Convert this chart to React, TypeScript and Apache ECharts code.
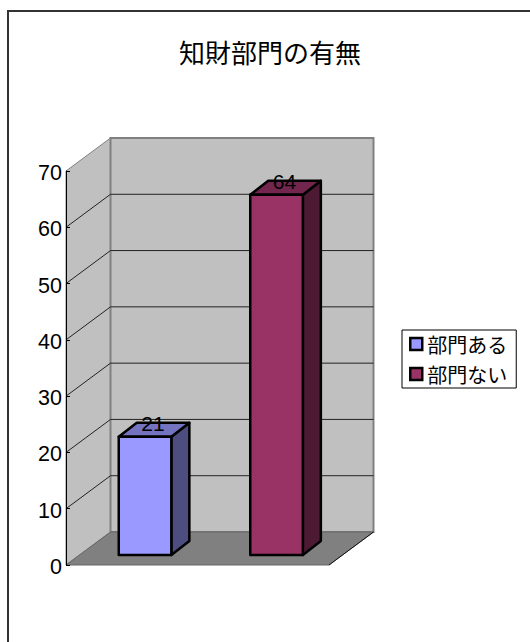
import React, { useEffect, useRef } from "react";
import * as echarts from "echarts";

const titleText = "知財部門の有無";
const categories = ["部門ある", "部門ない"];
const departmentYes = [21];
const departmentNo = [64];
const gridTicks = [10, 20, 30, 40, 50, 60];

const faceColors: Record<string, { front: string; top: string; side: string }> = {
  部門ある: { front: "#9999FF", top: "#7373BF", side: "#4D4D80" },
  部門ない: { front: "#993366", top: "#73264D", side: "#4D1A33" },
};

// Perspective of the box: how far the back plane sits from the front plane.
const DEPTH_X = 44.5;
const DEPTH_Y = -33;
// Bars stand part-way into the box and have a shallower depth of their own.
const BAR_INSET_X = 13.3;
const BAR_INSET_Y = -10;
const BAR_DEPTH_X = 18;
const BAR_DEPTH_Y = -14;
const BAR_WIDTH_RATIO = 0.4;

const jpFont = "'Noto Sans CJK JP', sans-serif";
const latinFont = "'Liberation Sans', Arial, sans-serif";

function renderBox(params: any, api: any) {
  const cs = params.coordSys;
  const left = cs.x;
  const right = cs.x + cs.width;
  const bottom = api.coord([0, 0])[1];
  const top = api.coord([0, 70])[1];
  const backL = left + DEPTH_X;
  const backR = right + DEPTH_X;
  const wallEdge = { stroke: "#808080", lineWidth: 2 };
  return {
    type: "group",
    children: [
      {
        type: "polygon",
        shape: { points: [[left, top], [backL, top + DEPTH_Y], [backL, bottom + DEPTH_Y], [left, bottom]] },
        style: { fill: "#C0C0C0", stroke: "#808080", lineWidth: 1 },
      },
      {
        type: "polygon",
        shape: { points: [[backL, top + DEPTH_Y], [backR, top + DEPTH_Y], [backR, bottom + DEPTH_Y], [backL, bottom + DEPTH_Y]] },
        style: { fill: "#C0C0C0", ...wallEdge },
      },
      {
        type: "polygon",
        shape: { points: [[left, bottom], [backL, bottom + DEPTH_Y], [backR, bottom + DEPTH_Y], [right, bottom]] },
        style: { fill: "#808080", stroke: "#666666", lineWidth: 1 },
      },
      {
        type: "line",
        shape: { x1: right, y1: bottom, x2: backR, y2: bottom + DEPTH_Y },
        style: { stroke: "#111111", lineWidth: 1 },
      },
    ],
  };
}

function renderGridLine(params: any, api: any) {
  const cs = params.coordSys;
  const y = api.coord([0, api.value(0)])[1];
  const left = cs.x;
  const backL = left + DEPTH_X;
  const backR = cs.x + cs.width + DEPTH_X;
  return {
    type: "polyline",
    shape: { points: [[left, y], [backL, y + DEPTH_Y], [backR, y + DEPTH_Y]] },
    style: { fill: "none", stroke: "#222222", lineWidth: 1 },
  };
}

function renderBar(params: any, api: any) {
  const name = categories[api.value(0)];
  const value = api.value(1);
  const colors = faceColors[name];
  const base = api.coord([api.value(0), 0]);
  const head = api.coord([api.value(0), value]);
  const width = api.size([1, 0])[0] * BAR_WIDTH_RATIO;
  const x0 = base[0] + BAR_INSET_X - width / 2;
  const x1 = x0 + width;
  const yBottom = base[1] + BAR_INSET_Y;
  const yTop = head[1] + BAR_INSET_Y;
  const edge = { stroke: "#000000", lineWidth: 2.5, lineJoin: "round" };
  return {
    type: "group",
    children: [
      {
        type: "polygon",
        shape: { points: [[x1, yTop], [x1 + BAR_DEPTH_X, yTop + BAR_DEPTH_Y], [x1 + BAR_DEPTH_X, yBottom + BAR_DEPTH_Y], [x1, yBottom]] },
        style: { fill: colors.side, ...edge },
      },
      {
        type: "polygon",
        shape: { points: [[x0, yTop], [x0 + BAR_DEPTH_X, yTop + BAR_DEPTH_Y], [x1 + BAR_DEPTH_X, yTop + BAR_DEPTH_Y], [x1, yTop]] },
        style: { fill: colors.top, ...edge },
      },
      {
        type: "rect",
        shape: { x: x0, y: yTop, width, height: yBottom - yTop },
        style: { fill: colors.front, ...edge },
      },
      {
        type: "text",
        style: {
          text: String(value),
          x: (x0 + x1) / 2 + BAR_DEPTH_X / 2 - 1,
          y: yTop + BAR_DEPTH_Y + 0.5,
          textAlign: "center",
          textVerticalAlign: "middle",
          fill: "#000000",
          fontSize: 21,
          fontFamily: latinFont,
        },
      },
    ],
  };
}

export default function App() {
  const ref = useRef<HTMLDivElement>(null);

  useEffect(() => {
    document.body.style.margin = "0";
    const chart = echarts.init(ref.current!, undefined, { renderer: "svg" });
    chart.setOption({
      animation: false,
      backgroundColor: "#FFFFFF",
      title: {
        text: titleText,
        left: 265,
        top: 33,
        textAlign: "center",
        textStyle: { fontFamily: jpFont, fontSize: 26, fontWeight: "normal", color: "#000000" },
      },
      graphic: [
        {
          type: "polyline",
          shape: { points: [[8, 642], [8, 11], [530, 11]] },
          style: { fill: "none", stroke: "#333333", lineWidth: 2 },
        },
      ],
      legend: {
        orient: "vertical",
        left: 402,
        top: 330,
        data: categories,
        selectedMode: false,
        icon: "rect",
        itemWidth: 12,
        itemHeight: 12,
        itemGap: 10,
        padding: [4, 9, 4, 7],
        borderColor: "#000000",
        borderWidth: 1,
        backgroundColor: "#FFFFFF",
        itemStyle: { borderColor: "#000000", borderWidth: 2.5 },
        textStyle: { fontFamily: jpFont, fontSize: 20, color: "#000000", padding: [0, 0, 0, 0], height: 20, lineHeight: 20 },
      },
      grid: { left: 66, top: 171, width: 263, height: 394, containLabel: false },
      xAxis: {
        type: "category",
        data: categories,
        show: false,
      },
      yAxis: {
        type: "value",
        min: 0,
        max: 70,
        interval: 10,
        z: 5,
        splitLine: { show: false },
        axisLine: { show: true, lineStyle: { color: "#000000", width: 1 } },
        axisTick: { show: true, inside: true, length: 4, lineStyle: { color: "#000000", width: 1 } },
        axisLabel: {
          margin: 4,
          formatter: "{tick|{value}}",
          rich: {
            tick: { color: "#000000", fontFamily: latinFont, fontSize: 21.5, padding: [4, 0, 0, 0] },
          },
        },
      },
      series: [
        {
          type: "custom",
          name: "walls",
          data: [[0, 0]],
          encode: { x: 0, y: 1 },
          renderItem: renderBox,
          silent: true,
          z: 1,
        },
        {
          type: "custom",
          name: "gridlines",
          data: gridTicks.map((t) => [t]),
          encode: { y: 0 },
          renderItem: renderGridLine,
          silent: true,
          z: 2,
        },
        {
          type: "custom",
          name: categories[0],
          data: departmentYes.map((v) => [categories[0], v]),
          encode: { x: 0, y: 1 },
          renderItem: renderBar,
          itemStyle: { color: faceColors[categories[0]].front },
          z: 3,
        },
        {
          type: "custom",
          name: categories[1],
          data: departmentNo.map((v) => [categories[1], v]),
          encode: { x: 0, y: 1 },
          renderItem: renderBar,
          itemStyle: { color: faceColors[categories[1]].front },
          z: 3,
        },
      ],
    });
    return () => chart.dispose();
  }, []);

  return <div ref={ref} style={{ width: 530, height: 642 }} />;
}
